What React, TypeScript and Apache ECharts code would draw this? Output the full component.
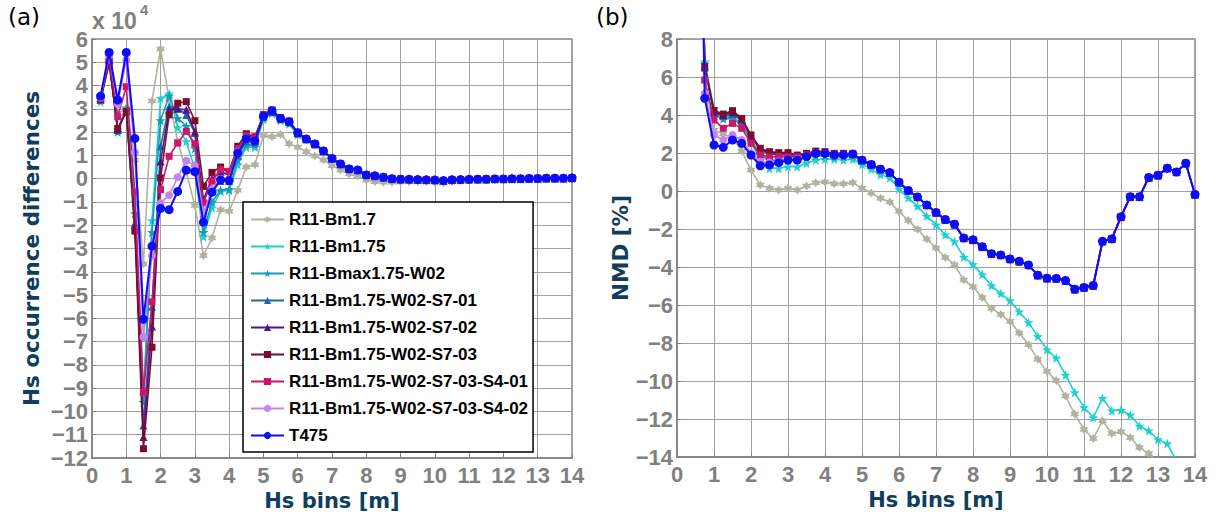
import React, { useEffect, useRef } from "react";
import * as echarts from "echarts";

// Hs bin centres [m]
const HS_BINS_A = [0.25, 0.5, 0.75, 1, 1.25, 1.5, 1.75, 2, 2.25, 2.5, 2.75, 3, 3.25, 3.5, 3.75, 4, 4.25, 4.5, 4.75, 5, 5.25, 5.5, 5.75, 6, 6.25, 6.5, 6.75, 7, 7.25, 7.5, 7.75, 8, 8.25, 8.5, 8.75, 9, 9.25, 9.5, 9.75, 10, 10.25, 10.5, 10.75, 11, 11.25, 11.5, 11.75, 12, 12.25, 12.5, 12.75, 13, 13.25, 13.5, 13.75, 14];
const HS_BINS_B = [0.5, 0.75, 1, 1.25, 1.5, 1.75, 2, 2.25, 2.5, 2.75, 3, 3.25, 3.5, 3.75, 4, 4.25, 4.5, 4.75, 5, 5.25, 5.5, 5.75, 6, 6.25, 6.5, 6.75, 7, 7.25, 7.5, 7.75, 8, 8.25, 8.5, 8.75, 9, 9.25, 9.5, 9.75, 10, 10.25, 10.5, 10.75, 11, 11.25, 11.5, 11.75, 12, 12.25, 12.5, 12.75, 13, 13.25, 13.5, 13.75, 14];

const X_TICKS = [0, 14, 1];
const Y_TICKS_A = [-12, 6, 1];
const Y_TICKS_B = [-14, 8, 2];

// (a) occurrence differences, x 10^4 — bins 0.25 .. 6.0
const DIFF_BM17 = [3.4, 5.0, 2.8, 3.0, 0.8, -3.67, 3.34, 5.57, 3.4, 1.6, 0.3, -1.15, -3.3, -2.55, -1.33, -1.4, -0.5, 0.5, 0.6, 1.85, 1.8, 1.9, 1.5, 1.35];
const DIFF_BM175 = [3.3, 5.0, 2.1, 3.05, -1.0, -9.3, -1.8, 3.45, 3.65, 2.2, 1.6, 0.4, -2.5, -1.25, -0.55, -0.5, 0.6, 1.35, 1.35, 2.55, 2.8, 2.5, 2.35, 1.9];
const DIFF_BMAX175_W02 = [3.4, 5.1, 2.0, 3.0, -1.5, -9.6, -2.3, 2.5, 3.55, 2.6, 2.25, 1.3, -2.3, -1.0, -0.5, -0.45, 0.8, 1.45, 1.45, 2.6, 2.85, 2.55, 2.4, 1.93];
const DIFF_S7_01 = [3.4, 5.1, 2.1, 2.9, -1.9, -10.6, -5.5, 1.39, 3.1, 3.03, 2.74, 1.96, -1.5, -0.5, -0.1, -0.1, 1.0, 1.6, 1.55, 2.65, 2.88, 2.57, 2.43, 1.95];
const DIFF_S7_02 = [3.4, 5.1, 2.1, 2.9, -2.0, -11.1, -6.35, 0.74, 2.96, 3.0, 2.96, 2.03, -0.9, 0.0, 0.3, 0.15, 1.2, 1.8, 1.65, 2.7, 2.9, 2.6, 2.45, 1.97];
const DIFF_S7_03 = [3.4, 4.95, 2.16, 2.88, -2.25, -11.6, -7.24, 0.03, 2.74, 3.24, 3.31, 2.49, -0.33, 0.27, 0.5, 0.31, 1.39, 1.93, 1.8, 2.75, 2.95, 2.62, 2.47, 2.0];
const DIFF_S4_01 = [3.45, 5.2, 2.66, 3.95, -0.56, -9.17, -5.29, -0.47, 0.96, 1.53, 2.03, 1.5, -1.04, -0.11, 0.39, 0.31, 1.3, 1.85, 1.75, 2.72, 2.93, 2.6, 2.46, 1.98];
const DIFF_S4_02 = [3.5, 5.3, 3.2, 5.1, 1.12, -6.8, -3.3, -1.05, -0.71, 0.06, 0.77, 0.57, -1.5, -0.45, 0.0, -0.02, 1.15, 1.75, 1.63, 2.69, 2.92, 2.59, 2.45, 1.97];
const DIFF_T475 = [3.55, 5.42, 3.38, 5.42, 1.73, -6.04, -2.9, -1.28, -1.33, -0.55, 0.37, 0.3, -1.87, -0.58, -0.05, -0.08, 1.1, 1.72, 1.62, 2.69, 2.92, 2.59, 2.45, 1.97];
// bins 6.25 .. 14
const DIFF_TAIL = [1.7, 1.49, 1.19, 0.87, 0.63, 0.42, 0.37, 0.16, 0.12, 0.06, 0.0, -0.02, -0.03, -0.04, -0.05, -0.06, -0.08, -0.05, -0.04, -0.03, -0.02, -0.02, -0.01, -0.01, 0.0, 0.0, 0.01, 0.01, 0.02, 0.02, 0.02, 0.03];
const DIFF_TAIL_BM17 = [1.16, 0.97, 0.8, 0.56, 0.37, 0.2, 0.12, -0.06, -0.13, -0.15, -0.15, -0.14, -0.13, -0.12, -0.12, -0.14, -0.18, -0.12, -0.08, -0.06, -0.05, -0.04, -0.03, -0.02, -0.02, -0.01, -0.01, 0.0, 0.0, 0.01, 0.01, 0.02];

// (b) NMD [%] — bins 0.5 .. 4.75
const NMD_BMAX175_W02 = [30, 6.7, 4.0, 3.8, 3.8, 3.5, 2.7, 1.9, 1.6, 1.6, 1.6, 1.65, 1.75, 1.85, 1.85, 1.8, 1.8, 1.85];
const NMD_S7_01 = [30, 6.6, 4.1, 3.95, 4.05, 3.7, 2.85, 2.15, 1.95, 1.9, 1.9, 1.85, 1.92, 2.02, 2.02, 1.95, 1.95, 1.95];
const NMD_S7_02 = [30, 6.5, 4.15, 4.0, 4.15, 3.78, 2.9, 2.2, 2.0, 1.95, 1.95, 1.88, 1.97, 2.08, 2.05, 1.97, 1.97, 1.95];
const NMD_S7_03 = [30, 6.54, 4.23, 4.05, 4.23, 3.82, 2.95, 2.25, 2.07, 2.02, 2.02, 1.89, 1.98, 2.1, 2.07, 1.98, 1.98, 1.95];
const NMD_S4_01 = [30, 5.84, 3.74, 3.3, 3.56, 3.3, 2.51, 1.89, 1.8, 1.8, 1.8, 1.8, 1.9, 2.02, 2.0, 1.93, 1.93, 1.95];
const NMD_S4_02 = [30, 5.14, 2.95, 2.68, 2.95, 2.68, 1.98, 1.54, 1.5, 1.55, 1.65, 1.68, 1.83, 1.98, 1.98, 1.9, 1.9, 1.95];
const NMD_T475 = [30, 4.88, 2.42, 2.3, 2.68, 2.51, 1.89, 1.33, 1.37, 1.49, 1.63, 1.63, 1.81, 1.98, 1.98, 1.89, 1.89, 1.95];
// bins 5.0 .. 14
const NMD_TAIL = [1.62, 1.4, 1.15, 0.97, 0.46, 0.03, -0.32, -0.74, -1.13, -1.5, -1.75, -2.48, -2.57, -2.93, -3.3, -3.37, -3.58, -3.7, -3.9, -4.43, -4.59, -4.6, -4.71, -5.17, -5.08, -4.97, -2.65, -2.52, -1.36, -0.3, -0.3, 0.71, 0.83, 1.2, 1.0, 1.46, -0.18];
// bins 0.5 .. 14
const NMD_BM17 = [30, 5.8, 3.2, 3.0, 2.8, 2.1, 1.1, 0.32, 0.14, 0.05, 0.14, 0.05, 0.26, 0.44, 0.47, 0.38, 0.38, 0.44, 0.14, -0.1, -0.38, -0.58, -1.08, -1.55, -2.01, -2.53, -3.0, -3.5, -3.88, -4.69, -5.04, -5.61, -6.18, -6.5, -6.86, -7.47, -8.09, -8.85, -9.5, -9.98, -10.79, -11.74, -12.55, -13.03, -12.09, -12.76, -12.67, -12.97, -13.5, -13.82, -14.3, -14.6, -15.0, -15.4, -15.8];
const NMD_BM175 = [30, 6.8, 4.35, 3.9, 3.9, 3.56, 2.6, 1.63, 1.19, 1.19, 1.28, 1.28, 1.46, 1.63, 1.67, 1.67, 1.63, 1.67, 1.4, 1.14, 0.86, 0.7, 0.1, -0.36, -0.8, -1.32, -1.78, -2.3, -2.66, -3.48, -3.86, -4.4, -4.98, -5.4, -5.77, -6.35, -6.92, -7.65, -8.35, -8.79, -9.68, -10.61, -11.39, -11.92, -10.91, -11.56, -11.53, -11.79, -12.37, -12.62, -13.08, -13.29, -14.2, -14.8, -15.3];

const NAMES = [
  "R11-Bm1.7",
  "R11-Bm1.75",
  "R11-Bmax1.75-W02",
  "R11-Bm1.75-W02-S7-01",
  "R11-Bm1.75-W02-S7-02",
  "R11-Bm1.75-W02-S7-03",
  "R11-Bm1.75-W02-S7-03-S4-01",
  "R11-Bm1.75-W02-S7-03-S4-02",
  "T475",
];

const DIFF_SERIES = [
  [...DIFF_BM17, ...DIFF_TAIL_BM17],
  [...DIFF_BM175, ...DIFF_TAIL],
  [...DIFF_BMAX175_W02, ...DIFF_TAIL],
  [...DIFF_S7_01, ...DIFF_TAIL],
  [...DIFF_S7_02, ...DIFF_TAIL],
  [...DIFF_S7_03, ...DIFF_TAIL],
  [...DIFF_S4_01, ...DIFF_TAIL],
  [...DIFF_S4_02, ...DIFF_TAIL],
  [...DIFF_T475, ...DIFF_TAIL],
];

const NMD_SERIES = [
  NMD_BM17,
  NMD_BM175,
  [...NMD_BMAX175_W02, ...NMD_TAIL],
  [...NMD_S7_01, ...NMD_TAIL],
  [...NMD_S7_02, ...NMD_TAIL],
  [...NMD_S7_03, ...NMD_TAIL],
  [...NMD_S4_01, ...NMD_TAIL],
  [...NMD_S4_02, ...NMD_TAIL],
  [...NMD_T475, ...NMD_TAIL],
];

const STAR5 = "path://M0,-10L2.35,-3.24L9.51,-3.09L3.8,1.24L5.88,8.09L0,4L-5.88,8.09L-3.8,1.24L-9.51,-3.09L-2.35,-3.24Z";
const STAR6 = "path://M0,-10L2.9,-5L8.66,-5L5.8,0L8.66,5L2.9,5L0,10L-2.9,5L-8.66,5L-5.8,0L-8.66,-5L-2.9,-5Z";

const STYLES = [
  { color: "#b3b1a0", symbol: STAR6, size: 9, width: 1.6 },
  { color: "#1fd0d0", symbol: STAR5, size: 10, width: 1.6 },
  { color: "#179db5", symbol: STAR5, size: 10, width: 1.6 },
  { color: "#1a68a6", symbol: "triangle", size: 8, width: 1.6 },
  { color: "#48188a", symbol: "triangle", size: 8, width: 1.6 },
  { color: "#7e0a2c", symbol: "rect", size: 7, width: 1.6 },
  { color: "#c8176c", symbol: "rect", size: 7, width: 1.6 },
  { color: "#c384f2", symbol: "circle", size: 8, width: 1.6 },
  { color: "#0c0cf5", symbol: "circle", size: 9, width: 2 },
];

const TICK_FONT = "'Liberation Sans', Arial, sans-serif";
const NAME_FONT = "'DejaVu Sans', sans-serif";
const TICK_COLOR = "#808080";
const NAME_COLOR = "#0f3d5c";

const minusFmt = (v: number) => (v < 0 ? "\u2212" + Math.abs(v) : String(v));

function xAxis(gridIndex: number) {
  return {
    gridIndex,
    type: "value",
    min: X_TICKS[0],
    max: X_TICKS[1],
    interval: X_TICKS[2],
    name: "Hs bins [m]",
    nameLocation: "middle",
    nameGap: 30,
    nameTextStyle: { fontFamily: NAME_FONT, fontWeight: "bold", fontSize: 21, color: NAME_COLOR },
    axisLine: { show: true, onZero: false, lineStyle: { color: "#808080", width: 1.5 } },
    axisTick: { show: true, inside: true, length: 4, lineStyle: { color: "#808080" } },
    axisLabel: { margin: 6, fontFamily: TICK_FONT, fontWeight: "bold", fontSize: 22, color: TICK_COLOR },
    splitLine: { show: true, lineStyle: { color: "#a0a0a0", width: 1 } },
  };
}

function yAxis(gridIndex: number, ticks: number[], name: string, nameGap: number) {
  return {
    gridIndex,
    type: "value",
    min: ticks[0],
    max: ticks[1],
    interval: ticks[2],
    name,
    nameLocation: "middle",
    nameRotate: 90,
    nameGap,
    nameTextStyle: { fontFamily: NAME_FONT, fontWeight: "bold", fontSize: 21.5, color: NAME_COLOR },
    axisLine: { show: true, onZero: false, lineStyle: { color: "#808080", width: 1.5 } },
    axisTick: { show: true, inside: true, length: 4, lineStyle: { color: "#808080" } },
    axisLabel: { margin: 4, fontFamily: TICK_FONT, fontWeight: "bold", fontSize: 22, color: TICK_COLOR, formatter: minusFmt },
    splitLine: { show: true, lineStyle: { color: "#a0a0a0", width: 1 } },
  };
}

function buildSeries() {
  const out: any[] = [];
  NAMES.forEach((name, i) => {
    const st = STYLES[i];
    const common = {
      name,
      type: "line",
      symbol: st.symbol,
      symbolSize: st.size,
      clip: true,
      z: 2 + i,
      itemStyle: { color: st.color },
      lineStyle: { color: st.color, width: st.width },
    };
    out.push({
      ...common,
      xAxisIndex: 0,
      yAxisIndex: 0,
      data: HS_BINS_A.map((x, k) => [x, DIFF_SERIES[i][k]]),
    });
    out.push({
      ...common,
      xAxisIndex: 1,
      yAxisIndex: 1,
      data: HS_BINS_B.map((x, k) => [x, NMD_SERIES[i][k]]),
    });
  });
  return out;
}

export default function App() {
  const ref = useRef<HTMLDivElement>(null);

  useEffect(() => {
    if (!ref.current) return;
    const chart = echarts.init(ref.current, undefined, { renderer: "svg" });
    chart.setOption({
      animation: false,
      backgroundColor: "#ffffff",
      grid: [
        { left: 92, top: 39, width: 480, height: 419, show: true, borderColor: "#8a8a8a", borderWidth: 1.5 },
        { left: 677, top: 39, width: 518, height: 418, show: true, borderColor: "#8a8a8a", borderWidth: 1.5 },
      ],
      xAxis: [xAxis(0), xAxis(1)],
      yAxis: [
        yAxis(0, Y_TICKS_A, "Hs occurrence differences", 50),
        yAxis(1, Y_TICKS_B, "NMD [%]", 45),
      ],
      legend: {
        data: NAMES,
        orient: "vertical",
        left: 243,
        top: 202,
        itemWidth: 33,
        itemHeight: 9,
        itemGap: 10,
        itemTextGap: 6,
        padding: [9, 5, 8, 7],
        borderColor: "#000000",
        borderWidth: 1.5,
        backgroundColor: "#ffffff",
        selectedMode: false,
        textStyle: { fontFamily: TICK_FONT, fontWeight: "bold", fontSize: 17, lineHeight: 16, color: "#000000" },
      },
      graphic: [
        { type: "text", left: 8, top: 5, style: { text: "(a)", fontFamily: NAME_FONT, fontSize: 23, fill: "#000000" } },
        { type: "text", left: 596, top: 5, style: { text: "(b)", fontFamily: NAME_FONT, fontSize: 23, fill: "#000000" } },
        { type: "text", left: 92, top: 9, style: { text: "x 10", fontFamily: TICK_FONT, fontWeight: "bold", fontSize: 23, fill: TICK_COLOR } },
        { type: "text", left: 140, top: 2, style: { text: "4", fontFamily: TICK_FONT, fontWeight: "bold", fontSize: 15, fill: TICK_COLOR } },
      ],
      series: buildSeries(),
    });
    return () => chart.dispose();
  }, []);

  return (
    <div
      ref={ref}
      style={{ position: "fixed", left: 0, top: 0, width: 1217, height: 520, background: "#fff" }}
    />
  );
}
